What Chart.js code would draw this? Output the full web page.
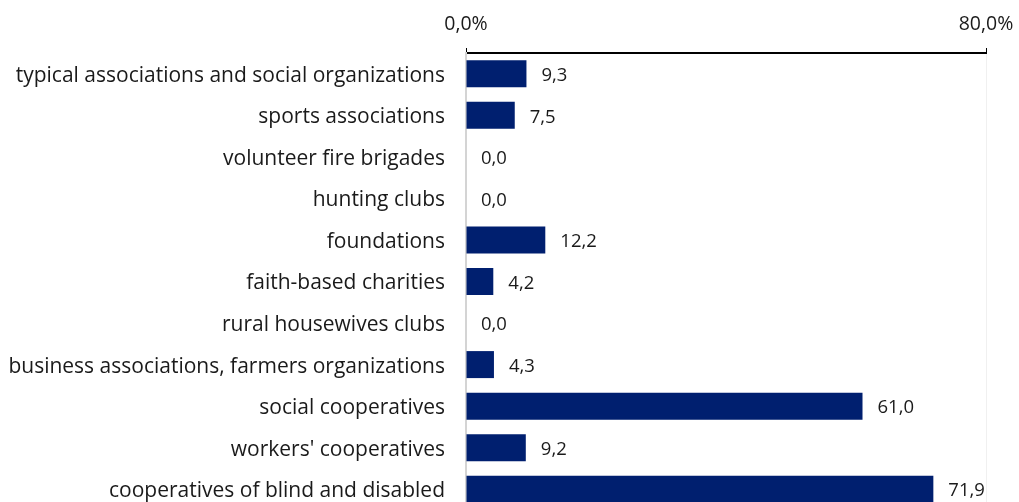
<!DOCTYPE html>
<html>
<head>
<meta charset="utf-8">
<script src="https://cdn.jsdelivr.net/npm/chart.js@4"></script>
<style>
  html, body { margin: 0; padding: 0; background: #fff; overflow: hidden; }
  #wrap { width: 1019px; height: 502px; overflow: hidden; }
</style>
</head>
<body>
<div id="wrap"><canvas id="shareChart" width="1019" height="520"></canvas></div>
<script>
const categories = [
  'typical associations and social organizations',
  'sports associations',
  'volunteer fire brigades',
  'hunting clubs',
  'foundations',
  'faith-based charities',
  'rural housewives clubs',
  'business associations, farmers organizations',
  'social cooperatives',
  "workers' cooperatives",
  'cooperatives of blind and disabled'
];
const shares = [9.3, 7.5, 0.0, 0.0, 12.2, 4.2, 0.0, 4.3, 61.0, 9.2, 71.9];
const axisTicks = [0, 80];

const FONT = '"Open Sans", "Noto Sans", sans-serif';
const fmt = (v, digits) => v.toFixed(digits).replace('.', ',');

// value labels to the right of each bar
const barValues = {
  id: 'barValues',
  afterDatasetsDraw(chart) {
    const ctx = chart.ctx;
    const meta = chart.getDatasetMeta(0);
    ctx.save();
    ctx.font = '18.5px ' + FONT;
    ctx.fillStyle = '#1a1a1a';
    ctx.textAlign = 'left';
    ctx.textBaseline = 'middle';
    meta.data.forEach((bar, i) => {
      ctx.fillText(fmt(shares[i], 1), bar.x + 15, bar.y + 2);
    });
    ctx.restore();
  }
};

const canvas = document.getElementById('shareChart');
canvas.chart = new Chart(canvas.getContext('2d'), {
  type: 'bar',
  data: {
    labels: categories,
    datasets: [{
      data: shares,
      backgroundColor: '#001f6f',
      borderWidth: 0,
      barPercentage: 0.65,
      categoryPercentage: 1.0
    }]
  },
  plugins: [barValues],
  options: {
    indexAxis: 'y',
    responsive: false,
    maintainAspectRatio: false,
    aspectRatio: 1019 / 520,
    animation: false,
    layout: { padding: { left: 0, right: 33, top: 0, bottom: 10 } },
    plugins: {
      legend: { display: false },
      tooltip: { enabled: false }
    },
    scales: {
      x: {
        position: 'top',
        min: 0,
        max: 80,
        afterBuildTicks: (scale) => { scale.ticks = axisTicks.map(v => ({ value: v })); },
        afterFit: (scale) => {
          scale.height = 53;
          scale.paddingLeft = 0;
          scale.paddingRight = 0;
        },
        border: { display: true, color: '#000', width: 2 },
        grid: {
          drawOnChartArea: true,
          color: (c) => c.tick && c.tick.value === 0 ? '#d4d4d4' : '#f0f0f0',
          tickColor: '#000',
          tickLength: 5,
          lineWidth: 1
        },
        ticks: {
          padding: 12,
          color: '#1a1a1a',
          font: { family: FONT, size: 19.5 },
          callback: (v) => fmt(v, 1) + '%'
        }
      },
      y: {
        afterFit: (scale) => {
          scale.width = 466;
          scale.paddingTop = 0;
          scale.paddingBottom = 0;
        },
        border: { display: true, color: '#d4d4d4', width: 2 },
        grid: { display: false, drawTicks: false },
        ticks: {
          padding: 21,
          labelOffset: 2,
          color: '#1a1a1a',
          font: { family: FONT, size: 21 }
        }
      }
    }
  }
});
</script>
</body>
</html>
